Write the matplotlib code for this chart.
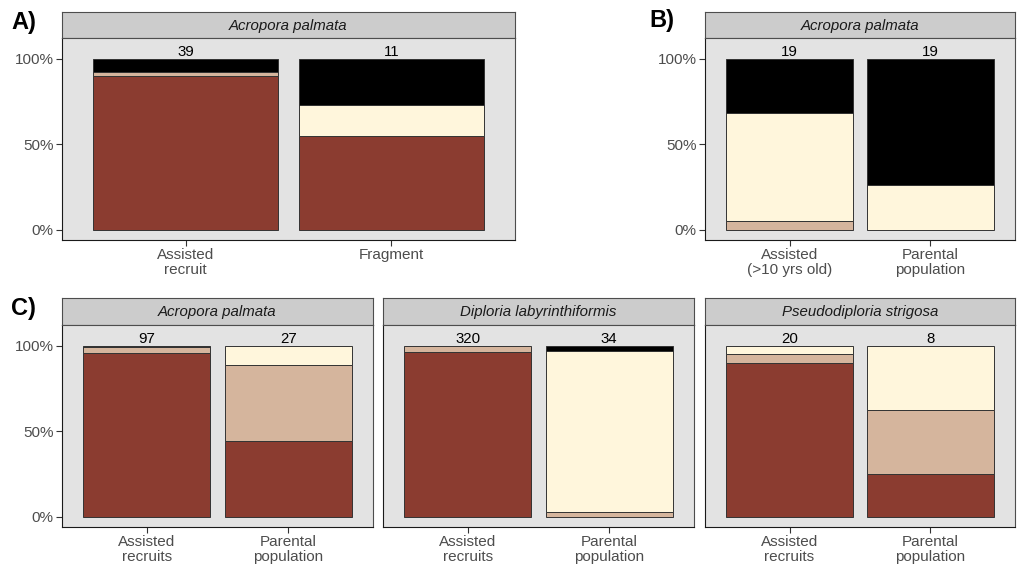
import matplotlib.pyplot as plt
import numpy as np

# ------ Donnees ------
# colonnes empilees de bas en haut : rouge, beige, creme, noir
stack_colors = ['#8B3C30', '#D5B59D', '#FFF6DC', '#000000']

panel_a_species = 'Acropora palmata'
panel_a_groups = ['Assisted\nrecruit', 'Fragment']
panel_a_counts = [[35, 1, 0, 3], [6, 0, 2, 3]]

panel_b_species = 'Acropora palmata'
panel_b_groups = ['Assisted\n(>10 yrs old)', 'Parental\npopulation']
panel_b_counts = [[0, 1, 12, 6], [0, 0, 5, 14]]

panel_c_species = ['Acropora palmata', 'Diploria labyrinthiformis', 'Pseudodiploria strigosa']
panel_c_groups = ['Assisted\nrecruits', 'Parental\npopulation']
panel_c_counts = [
    [[93, 3, 0, 1], [12, 12, 3, 0]],
    [[308, 12, 0, 0], [0, 1, 32, 1]],
    [[18, 1, 1, 0], [2, 3, 3, 0]],
]

W, H = 1017, 567
plt.rcParams['font.family'] = ['Liberation Sans', 'DejaVu Sans']
fig = plt.figure(figsize=(W / 100, H / 100), dpi=100)
fig.patch.set_facecolor('white')


def px_axes(x0, x1, y0, y1):
    # coordonnees en pixels (origine en haut a gauche)
    return fig.add_axes([x0 / W, 1 - y1 / H, (x1 - x0) / W, (y1 - y0) / H])


def facette(x0, x1, y_strip, y0, y1, species, groups, counts, show_y=True):
    # bandeau du titre
    sa = px_axes(x0, x1, y_strip, y0)
    sa.set_facecolor('#CCCCCC')
    sa.set_xticks([])
    sa.set_yticks([])
    for s in sa.spines.values():
        s.set_color('#4D4D4D')
        s.set_linewidth(0.8)
    sa.text(0.5, 0.48, species, ha='center', va='center', style='italic',
            fontsize=10.8, color='#1A1A1A', transform=sa.transAxes)

    ax = px_axes(x0, x1, y0, y1)
    ax.set_facecolor('#E3E3E3')
    x = np.arange(len(groups))
    for i, c in enumerate(counts):
        total = sum(c)
        bottom = 0
        for k, v in enumerate(c):
            if v == 0:
                continue
            frac = v / total
            ax.bar(x[i], frac, width=0.9, bottom=bottom, color=stack_colors[k],
                   edgecolor='#333333', linewidth=0.7)
            bottom += frac
        ax.text(x[i], 1.0, str(total), ha='center', va='bottom', fontsize=10.8, color='black')
    ax.set_xlim(-0.6, len(groups) - 0.4)
    ax.set_ylim(-0.06, 1.12)
    ax.set_xticks(x)
    ax.set_xticklabels(groups, fontsize=11, color='#4D4D4D', linespacing=1.05)
    ax.set_yticks([0, 0.5, 1])
    if show_y:
        ax.set_yticklabels(['0%', '50%', '100%'], fontsize=11, color='#4D4D4D')
    else:
        ax.set_yticklabels([])
    ax.tick_params(axis='both', length=4, width=0.8, color='#333333', pad=2)
    if not show_y:
        ax.tick_params(axis='y', length=0)
    for s in ax.spines.values():
        s.set_color('#4D4D4D')
        s.set_linewidth(0.8)
    ax.spines['left'].set_color('#1A1A1A')
    ax.spines['bottom'].set_color('#1A1A1A')
    return ax


# ------ A ------
facette(62, 515, 12, 38, 240, panel_a_species, panel_a_groups, panel_a_counts)
# ------ B ------
facette(705, 1015, 12, 38, 240, panel_b_species, panel_b_groups, panel_b_counts)
# ------ C ------
c_x = [(62, 373), (383, 694), (705, 1015)]
for j, (xa, xb) in enumerate(c_x):
    facette(xa, xb, 298, 325, 527, panel_c_species[j], panel_c_groups, panel_c_counts[j],
            show_y=(j == 0))

# Lettres des panneaux
fig.text(11 / W, 1 - 22 / H, 'A)', fontsize=17, fontweight='bold', va='center', ha='left')
fig.text(649 / W, 1 - 21 / H, 'B)', fontsize=17, fontweight='bold', va='center', ha='left')
fig.text(11 / W, 1 - 308 / H, 'C)', fontsize=17, fontweight='bold', va='center', ha='left')

plt.savefig('out.png', dpi=100)
